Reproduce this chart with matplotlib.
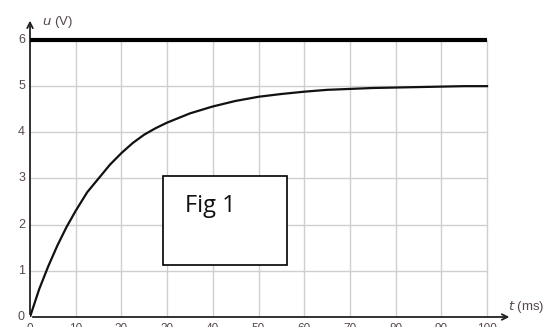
import matplotlib.pyplot as plt

# values
t_ms = [0, 2, 4, 6, 8, 10, 12.5, 15, 17.5, 20, 22.5, 25, 27.5, 30, 35, 40, 45, 50, 55, 60, 65, 70, 75, 80, 85, 90, 95, 100]
u_volts = [0, 0.6, 1.1, 1.55, 1.95, 2.3, 2.7, 3.0, 3.3, 3.55, 3.77, 3.95, 4.09, 4.21, 4.41, 4.56, 4.68, 4.77, 4.83, 4.88, 4.92, 4.94, 4.96, 4.97, 4.98, 4.99, 5.0, 5.0]
supply = 6
x_ticks = [0, 10, 20, 30, 40, 50, 60, 70, 80, 90, 100]
y_ticks = [0, 1, 2, 3, 4, 5, 6]

fig = plt.figure(figsize=(5.47, 3.27), dpi=100)
ax = fig.add_axes([30/547, 10/327, 517/547, 317/327])
ax.set_xlim(0, 517/4.57)
ax.set_ylim(0, 317/46.17)
ax.axis("off")

# grid
for x in x_ticks[1:]:
    ax.plot([x, x], [0, 6], color="#cfcfcf", lw=1, zorder=1)
for y in y_ticks[1:-1]:
    ax.plot([0, 100], [y, y], color="#cfcfcf", lw=1, zorder=1)

# axes with arrows
ax.annotate("", xy=(105.5, 0), xytext=(0, 0),
            arrowprops=dict(arrowstyle="->", color="#222222", lw=1.3), zorder=3)
ax.annotate("", xy=(0, 6.48), xytext=(0, 0),
            arrowprops=dict(arrowstyle="->", color="#222222", lw=1.3), zorder=3)

# tick labels
lab_col = "#57494a"
for x in x_ticks:
    ax.text(x, -0.12, str(x), ha="center", va="top", fontsize=8.5, color=lab_col,
            family="Liberation Sans", clip_on=False)
for y in y_ticks:
    ax.text(-1.1, y, str(y), ha="right", va="center", fontsize=9, color=lab_col,
            family="Liberation Sans", clip_on=False)

ax.text(2.6, 6.38, "$\\it{u}$ (V)", ha="left", va="center", fontsize=9.5, color=lab_col,
        family="Liberation Sans")
ax.text(104.5, 0.22, "$\\it{t}$ (ms)", ha="left", va="center", fontsize=9.5, color=lab_col,
        family="Liberation Sans")

# curves
ax.plot([0, 100], [supply, supply], color="black", lw=3, zorder=4, solid_capstyle="butt")
ax.plot(t_ms, u_volts, color="#111111", lw=1.6, zorder=4)

# box
ax.add_patch(plt.Rectangle((29.1, 1.13), 27.1, 1.92, fill=True, facecolor="white",
                           edgecolor="black", lw=1.2, zorder=5))
ax.text(34.0, 2.4, "Fig 1", ha="left", va="center", fontsize=17, color="#111111",
        family="Open Sans", zorder=6)

plt.savefig("out.png", dpi=100)
